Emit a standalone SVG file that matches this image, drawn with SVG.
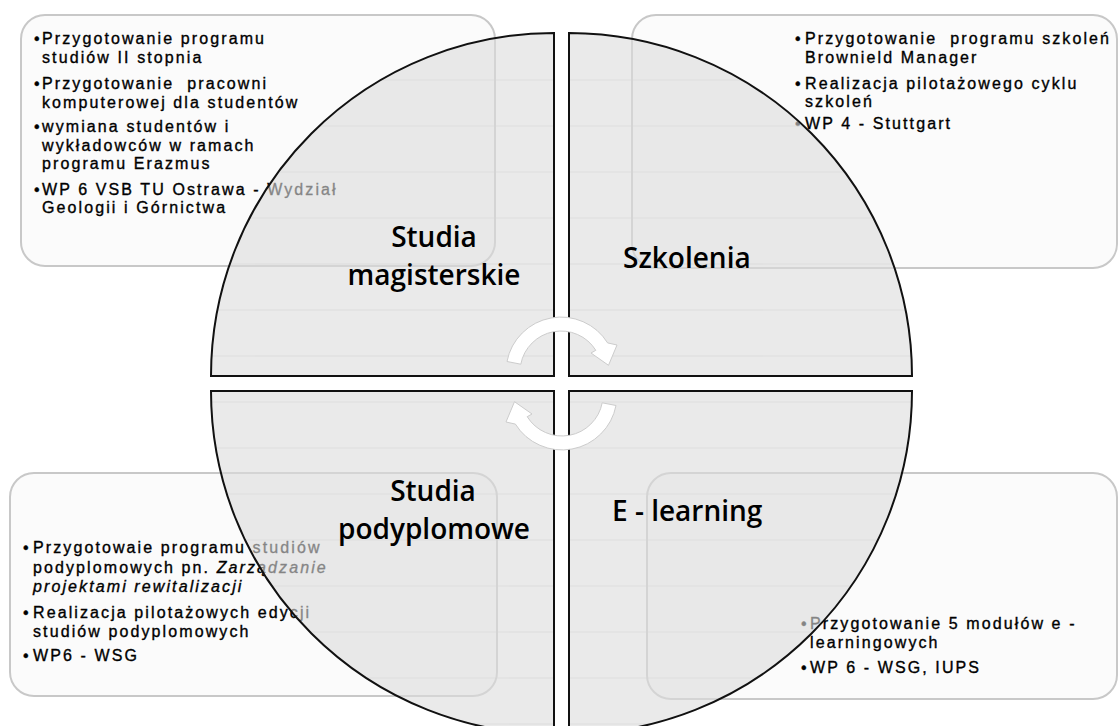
<svg xmlns="http://www.w3.org/2000/svg" width="1119" height="726" viewBox="0 0 1119 726">
<style>
.box{fill:#fbfbfb;stroke:#c8c8c8;stroke-width:2}
.qf{fill:#dcdcdc;fill-opacity:0.6;stroke:none}
.qo{fill:none;stroke:#111;stroke-width:2}
.t{font-family:"Liberation Sans",Arial,sans-serif;font-size:16px;letter-spacing:2.1px;fill:#000;stroke:#000;stroke-width:0.35px;white-space:pre}
.it{font-style:italic}
.lbl{font-family:"Open Sans",sans-serif;font-size:28px;font-weight:600;fill:#000}
.grid{stroke:#d2d2d2;stroke-width:1;opacity:0.5}
.arr{fill:#fff;stroke:#cccccc;stroke-width:1}
</style>
<defs>
<path id="pTL" d="M554,376 H211 A343,343 0 0 1 554,33 Z"/>
<path id="pTR" d="M569,376 V33 A343,343 0 0 1 912,376 Z"/>
<path id="pBL" d="M554,391 V734 A343,343 0 0 1 211,391 Z"/>
<path id="pBR" d="M569,391 H912 A343,343 0 0 1 569,734 Z"/>
<clipPath id="cTL"><use href="#pTL"/></clipPath>
<clipPath id="cTR"><use href="#pTR"/></clipPath>
<clipPath id="cBL"><use href="#pBL"/></clipPath>
<clipPath id="cBR"><use href="#pBR"/></clipPath>
<g id="gridTop" class="grid">
<line x1="200" y1="80" x2="920" y2="80"/><line x1="200" y1="126" x2="920" y2="126"/><line x1="200" y1="172" x2="920" y2="172"/><line x1="200" y1="218" x2="920" y2="218"/><line x1="200" y1="264" x2="920" y2="264"/><line x1="200" y1="310" x2="920" y2="310"/><line x1="200" y1="356" x2="920" y2="356"/>
</g>
<g id="gridBot" class="grid">
<line x1="200" y1="402" x2="920" y2="402"/><line x1="200" y1="448" x2="920" y2="448"/><line x1="200" y1="494" x2="920" y2="494"/><line x1="200" y1="540" x2="920" y2="540"/><line x1="200" y1="586" x2="920" y2="586"/><line x1="200" y1="632" x2="920" y2="632"/><line x1="200" y1="678" x2="920" y2="678"/><line x1="200" y1="724" x2="920" y2="724"/>
</g>
</defs>
<rect width="1119" height="726" fill="#fff"/>

<g id="box-tl">
<rect class="box" x="21" y="15" width="474" height="251" rx="24"/>
<text class="t" x="34" y="44">•</text><text class="t" x="42" y="44">Przygotowanie programu</text>
<text class="t" x="42" y="63">studiów II stopnia</text>
<text class="t" x="34" y="89">•</text><text class="t" x="42" y="89">Przygotowanie  pracowni</text>
<text class="t" x="42" y="108">komputerowej dla studentów</text>
<text class="t" x="34" y="132">•</text><text class="t" x="42" y="132">wymiana studentów i</text>
<text class="t" x="42" y="151">wykładowców w ramach</text>
<text class="t" x="42" y="169">programu Erazmus</text>
<text class="t" x="34" y="195">•</text><text class="t" x="42" y="195">WP 6 VSB TU Ostrawa - Wydział</text>
<text class="t" x="42" y="213">Geologii i Górnictwa</text>
</g>

<g id="box-tr">
<rect class="box" x="632" y="15" width="485" height="253" rx="24"/>
<text class="t" x="795" y="44">•</text><text class="t" x="805" y="44">Przygotowanie  programu szkoleń</text>
<text class="t" x="805" y="63">Brownield Manager</text>
<text class="t" x="795" y="89">•</text><text class="t" x="805" y="89">Realizacja pilotażowego cyklu</text>
<text class="t" x="805" y="107">szkoleń</text>
<text class="t" x="795" y="129">•</text><text class="t" x="805" y="129">WP 4 - Stuttgart</text>
</g>

<g id="box-bl">
<rect class="box" x="10" y="473" width="487" height="223" rx="24"/>
<text class="t" x="23" y="553">•</text><text class="t" x="33" y="553">Przygotowaie programu studiów</text>
<text class="t" x="33" y="573">podyplomowych pn. <tspan class="it">Zarządzanie</tspan></text>
<text class="t it" x="33" y="592">projektami rewitalizacji</text>
<text class="t" x="23" y="618">•</text><text class="t" x="33" y="618">Realizacja pilotażowych edycji</text>
<text class="t" x="33" y="637">studiów podyplomowych</text>
<text class="t" x="23" y="661">•</text><text class="t" x="33" y="661">WP6 - WSG</text>
</g>

<g id="box-br">
<rect class="box" x="647" y="473" width="470" height="226" rx="24"/>
<text class="t" x="801" y="629">•</text><text class="t" x="810" y="629">Przygotowanie 5 modułów e -</text>
<text class="t" x="810" y="648">learningowych</text>
<text class="t" x="801" y="673">•</text><text class="t" x="810" y="673">WP 6 - WSG, IUPS</text>
</g>

<g id="q-studia-magisterskie">
<use href="#pTL" class="qf"/>
<use href="#gridTop" clip-path="url(#cTL)"/>
<use href="#pTL" class="qo"/>
<text class="lbl" x="434" y="247" text-anchor="middle">Studia</text>
<text class="lbl" x="434" y="285" text-anchor="middle">magisterskie</text>
</g>

<g id="q-szkolenia">
<use href="#pTR" class="qf"/>
<use href="#gridTop" clip-path="url(#cTR)"/>
<use href="#pTR" class="qo"/>
<text class="lbl" x="623" y="268">Szkolenia</text>
</g>

<g id="q-studia-podyplomowe">
<use href="#pBL" class="qf"/>
<use href="#gridBot" clip-path="url(#cBL)"/>
<use href="#pBL" class="qo"/>
<text class="lbl" x="433" y="501" text-anchor="middle">Studia</text>
<text class="lbl" x="434" y="539" text-anchor="middle">podyplomowe</text>
</g>

<g id="q-e-learning">
<use href="#pBR" class="qf"/>
<use href="#gridBot" clip-path="url(#cBR)"/>
<use href="#pBR" class="qo"/>
<text class="lbl" x="612" y="521">E - learning</text>
</g>

<g id="connectors">
<path id="arrowTop" class="arr" d="M520.8,364.2 L507,361.5 A55,55 0 0 1 607.6,342.9 L617,345 L608.5,365.3 L591,353 L595.8,350.3 A41,41 0 0 0 520.8,364.2 Z"/>
<use href="#arrowTop" transform="rotate(180 561.5 383.5)"/>
</g>
</svg>
